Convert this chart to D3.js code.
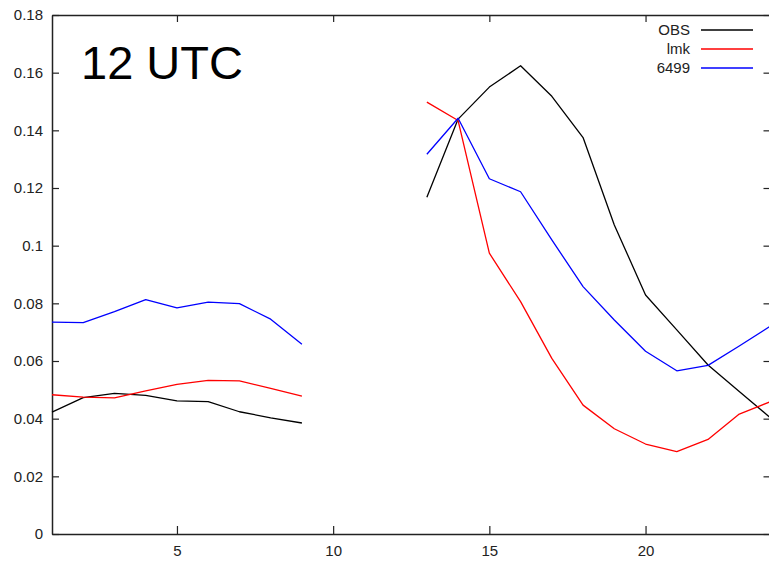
<!DOCTYPE html>
<html><head><meta charset="utf-8">
<script src="https://cdn.jsdelivr.net/npm/d3@7"></script>
<style>body{margin:0;background:#fff}svg{display:block}</style>
</head><body><div id="chart"></div>
<script>
const hours = [1,2,3,4,5,6,7,8,9,10,11,12,13,14,15,16,17,18,19,20,21,22,23,24];
const obs  = [0.0423,0.0473,0.0488,0.0481,0.0462,0.0459,0.0424,0.0403,0.0385,null,null,null,0.1168,0.1439,0.1550,0.1624,0.1518,0.1375,0.1072,0.0829,0.0708,0.0586,0.0494,0.0403];
const lmk  = [0.0483,0.0475,0.0472,0.0496,0.0519,0.0533,0.0531,0.0505,0.0478,null,null,null,0.1498,0.1434,0.0974,0.0806,0.0609,0.0447,0.0365,0.0312,0.0286,0.0328,0.0416,0.0459];
const s6499= [0.0735,0.0733,0.0771,0.0813,0.0784,0.0804,0.0799,0.0745,0.0658,null,null,null,0.1317,0.1442,0.1232,0.1187,0.1020,0.0858,0.0742,0.0634,0.0566,0.0585,0.0652,0.0721];
const seriesNames = ["OBS","lmk","6499"];
const seriesColors = ["#000000","#ff0000","#0000ff"];
const xTicks = [5,10,15,20];
const yTicks = [0,0.02,0.04,0.06,0.08,0.1,0.12,0.14,0.16,0.18];
const title = "12 UTC";

const W = 769, H = 561;
const L = 52, R = 770.5, T = 15, B = 534;
const svg = d3.select("#chart").append("svg").attr("width", W).attr("height", H);
const x = d3.scaleLinear().domain([1,24]).range([L,R]);
const y = d3.scaleLinear().domain([0,0.18]).range([B,T]);
const font = "'Liberation Sans', Arial, sans-serif";
const axisColor = "#222";

// axes with inward ticks
const gB = svg.append("g").attr("transform",`translate(0,${B})`)
  .call(d3.axisBottom(x).tickValues(xTicks).tickSizeInner(-8).tickSizeOuter(0).tickPadding(11).tickFormat(d3.format("d")));
const gT = svg.append("g").attr("transform",`translate(0,${T})`)
  .call(d3.axisTop(x).tickValues(xTicks).tickSizeInner(-7).tickSizeOuter(0).tickFormat(""));
const gL = svg.append("g").attr("transform",`translate(${L},0)`)
  .call(d3.axisLeft(y).tickValues(yTicks).tickSizeInner(-7).tickSizeOuter(0).tickPadding(9)
    .tickFormat(d => d === 0 ? "0" : d3.format(".2~f")(d)));
const gR = svg.append("g").attr("transform",`translate(${R},0)`)
  .call(d3.axisRight(y).tickValues(yTicks).tickSizeInner(-7).tickSizeOuter(0).tickFormat(""));
[gB,gT,gL,gR].forEach(g => {
  g.select(".domain").attr("stroke", axisColor).attr("stroke-width", 1.5);
  g.selectAll(".tick line").attr("stroke", axisColor).attr("stroke-width", 1.2);
  g.selectAll(".tick text").attr("fill", "#222").attr("font-family", font).attr("font-size", 15);
});

// series
const allSeries = [obs, lmk, s6499];
const line = d3.line().defined(d => d[1] !== null).x(d => x(d[0])).y(d => y(d[1]));
allSeries.forEach((vals, i) => {
  svg.append("path")
    .datum(hours.map((h, j) => [h, vals[j]]))
    .attr("fill","none").attr("stroke", seriesColors[i]).attr("stroke-width",1.3)
    .attr("stroke-linejoin","round")
    .attr("d", line);
});

// title
svg.append("text").attr("x", 81).attr("y", 79).text(title)
  .attr("font-family", font).attr("font-size", 47).attr("fill","#000");

// legend
seriesNames.forEach((n, i) => {
  const ly = 30 + i*19;
  svg.append("text").attr("x", 690).attr("y", ly + 5).attr("text-anchor","end")
    .attr("font-family", font).attr("font-size", 15).attr("fill","#222").text(n);
  svg.append("line").attr("x1", 701).attr("x2", 753).attr("y1", ly).attr("y2", ly)
    .attr("stroke", seriesColors[i]).attr("stroke-width", 1.3);
});
</script></body></html>
